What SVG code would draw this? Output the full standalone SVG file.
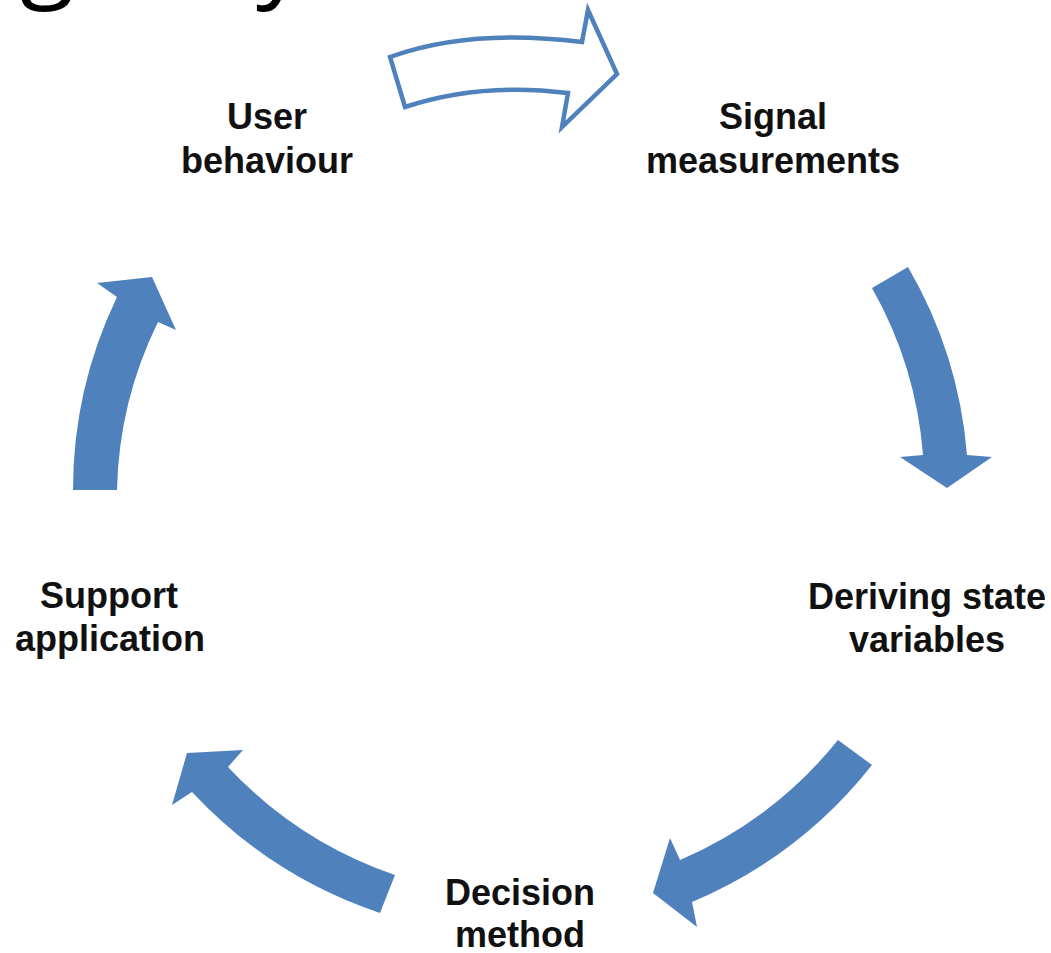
<svg xmlns="http://www.w3.org/2000/svg" width="1051" height="953" viewBox="0 0 1051 953">
<style>
.lbl{font-family:"Liberation Sans",Arial,sans-serif;font-weight:bold;font-size:36px;fill:#111;text-anchor:middle}
.title{font-family:"Open Sans","Liberation Sans",sans-serif;font-size:100px;fill:#000}
.arr{fill:#4f81bd;stroke:none}
.arr-o{fill:#fff;stroke:#4f81bd;stroke-width:4.5;stroke-linejoin:miter}
</style>
<rect width="1051" height="953" fill="#fff"/>
<g id="title">
<text class="title" x="20" y="-12">g</text>
<text class="title" x="256" y="-12">y</text>
</g>
<g id="connectors">
<path class="arr-o" d="M390,57 Q470,28 582,42 L588,10 L617,74 L562,127 L568,93 Q480,82 405,107 Z"/>
<path class="arr" d="M872,288 L908,267 A445,445 0 0 1 967,455 L992,457 L947,488 L900,457 L923,455 A403,403 0 0 0 872,288 Z"/>
<path class="arr" d="M838,740 L872,765 A454,454 0 0 1 692,902 L697,927 L653,893 L670,838 L680,860 A411,411 0 0 0 838,740 Z"/>
<path class="arr" d="M395,875 L380,913 A455,455 0 0 1 192,792 L172,805 L187,753 L243,750 L228,767 A411,411 0 0 0 395,875 Z"/>
<path class="arr" d="M117,490 L73,490 A445,445 0 0 1 117,297 L97,283 L152,277 L176,330 L158,322 A400,400 0 0 0 117,490 Z"/>
</g>
<g id="node-user">
<text class="lbl" x="267" y="129">User</text>
<text class="lbl" x="267" y="173">behaviour</text>
</g>
<g id="node-signal">
<text class="lbl" x="773" y="129">Signal</text>
<text class="lbl" x="773" y="173">measurements</text>
</g>
<g id="node-deriving">
<text class="lbl" x="927" y="609">Deriving state</text>
<text class="lbl" x="927" y="652">variables</text>
</g>
<g id="node-decision">
<text class="lbl" x="520" y="905">Decision</text>
<text class="lbl" x="520" y="947">method</text>
</g>
<g id="node-support">
<text class="lbl" x="109" y="608">Support</text>
<text class="lbl" x="110" y="651">application</text>
</g>
</svg>
